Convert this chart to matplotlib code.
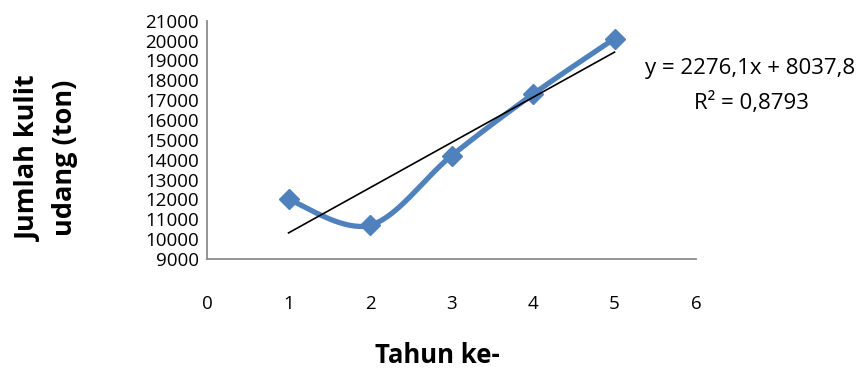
import numpy as np
import matplotlib
matplotlib.use("Agg")
import matplotlib.pyplot as plt

years = [1, 2, 3, 4, 5]
values = [12000, 10700, 14200, 17300, 20100]
trend_slope = 2276.1
trend_intercept = 8037.8
eq_text = "y = 2276,1x + 8037,8"
r2_text = "R² = 0,8793"
xticks = [0, 1, 2, 3, 4, 5, 6]
yticks = list(range(9000, 21001, 1000))

plt.rcParams['font.family'] = ['Open Sans', 'DejaVu Sans']

def catmull_rom(xs, ys, n=40):
    xs = np.asarray(xs, float); ys = np.asarray(ys, float)
    px = np.concatenate([[xs[0]], xs, [xs[-1]]])
    py = np.concatenate([[ys[0]], ys, [ys[-1]]])
    ox, oy = [], []
    for i in range(1, len(px) - 2):
        p0 = np.array([px[i-1], py[i-1]]); p1 = np.array([px[i], py[i]])
        p2 = np.array([px[i+1], py[i+1]]); p3 = np.array([px[i+2], py[i+2]])
        c1 = p1 + (p2 - p0) / 6.0
        c2 = p2 - (p3 - p1) / 6.0
        t = np.linspace(0, 1, n)[:, None]
        pts = (1-t)**3*p1 + 3*(1-t)**2*t*c1 + 3*(1-t)*t**2*c2 + t**3*p2
        ox.extend(pts[:, 0]); oy.extend(pts[:, 1])
    return np.array(ox), np.array(oy)

fig = plt.figure(figsize=(8.67, 3.68), dpi=100)
ax = fig.add_axes([0.2388, 0.2962, 0.5640, 0.6475])

sx, sy = catmull_rom(years, values)
ax.plot(sx, sy, color='#4F81BD', lw=3.8, solid_capstyle='round', zorder=2)
ax.plot(years, values, linestyle='none', marker='D', markersize=10,
        color='#4F81BD', zorder=3)
tx = np.array([years[0], years[-1]], float)
ax.plot(tx, trend_slope * tx + trend_intercept, color='black', lw=1.2, zorder=4)

ax.set_xlim(0, 6)
ax.set_ylim(9000, 21000)
ax.set_xticks(xticks)
ax.set_yticks(yticks)
ax.tick_params(axis='both', length=0, labelsize=13.5)
ax.tick_params(axis='x', pad=26)
ax.tick_params(axis='y', pad=6)
for s in ['top', 'right']:
    ax.spines[s].set_visible(False)
for s in ['left', 'bottom']:
    ax.spines[s].set_color('#8C8C8C')
    ax.spines[s].set_linewidth(1.3)

fig.text(0.865, 0.815, eq_text, ha='center', va='center', fontsize=16)
fig.text(0.867, 0.72, r2_text, ha='center', va='center', fontsize=16)

fig.text(0.054, 0.571, "Jumlah kulit\nudang (ton)", rotation=90, ha='center',
         va='center', fontsize=19.5, fontweight='bold', linespacing=1.5)
fig.text(0.504, 0.035, "Tahun ke-", ha='center', va='center', fontsize=18.5,
         fontweight='bold')

fig.savefig('out.png', dpi=100)
